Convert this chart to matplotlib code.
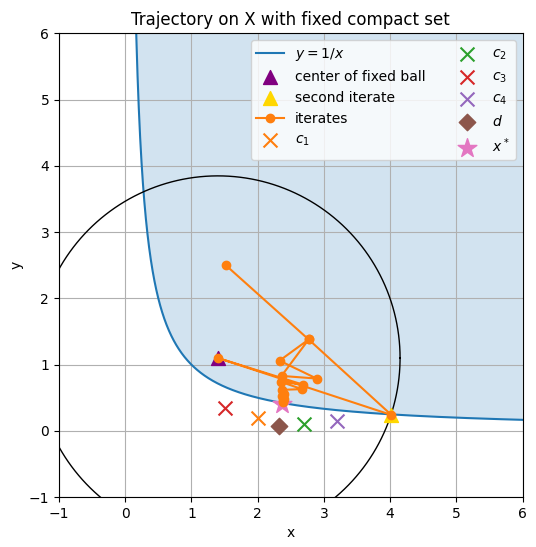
import numpy as np
import matplotlib
matplotlib.use('Agg')
import matplotlib.pyplot as plt

center = (1.4, 1.1)
radius = 2.75
second = (4.02, 0.24)
iter_x = [1.52, 2.77, 2.33, 2.89, 2.36, 2.77, 4.02, 1.40, 2.68, 2.35, 2.67, 2.37, 2.40, 2.37, 2.40, 2.38, 2.39]
iter_y = [2.50, 1.38, 1.06, 0.79, 0.83, 1.38, 0.24, 1.10, 0.70, 0.74, 0.63, 0.62, 0.55, 0.52, 0.48, 0.46, 0.44]
c_pts = {'$c_1$': (2.0, 0.2), '$c_2$': (2.7, 0.1), '$c_3$': (1.5, 0.35), '$c_4$': (3.2, 0.15)}
c_cols = {'$c_1$': 'C1', '$c_2$': 'C2', '$c_3$': 'C3', '$c_4$': 'C4'}
d_pt = (2.32, 0.07)
xstar = (2.36, 0.40)

fig, ax = plt.subplots(figsize=(5.36, 5.47), dpi=100)
xs = np.linspace(0.01, 6, 2000)
ax.fill_between(xs, 1 / xs, 7, color='C0', alpha=0.2, lw=0)
ax.plot(xs, 1 / xs, color='C0', label='$y=1/x$')
th = np.linspace(0, 2 * np.pi, 400)
ax.plot(center[0] + radius * np.cos(th), center[1] + radius * np.sin(th), color='black', lw=1)
ax.scatter(*center, marker='^', s=100, color='purple', label='center of fixed ball', zorder=3)
ax.scatter(*second, marker='^', s=100, color='gold', label='second iterate', zorder=3)
ax.plot(iter_x, iter_y, '-o', color='C1', label='iterates', zorder=4)
for k, (px, py) in c_pts.items():
    ax.scatter(px, py, marker='x', s=100, color=c_cols[k], label=k, zorder=3)
ax.scatter(*d_pt, marker='D', s=70, color='C5', label='$d$', zorder=3)
ax.scatter(*xstar, marker='*', s=200, color='C6', label='$x^*$', zorder=3)
ax.set_xlim(-1, 6)
ax.set_ylim(-1, 6)
ax.set_aspect('equal')
ax.grid(True)
ax.set_xlabel('x')
ax.set_ylabel('y')
ax.set_title('Trajectory on X with fixed compact set')
ax.legend(loc='upper right', ncol=2)
fig.subplots_adjust(left=0.11, right=0.975, bottom=0.09, top=0.94)
fig.savefig('out.png')
